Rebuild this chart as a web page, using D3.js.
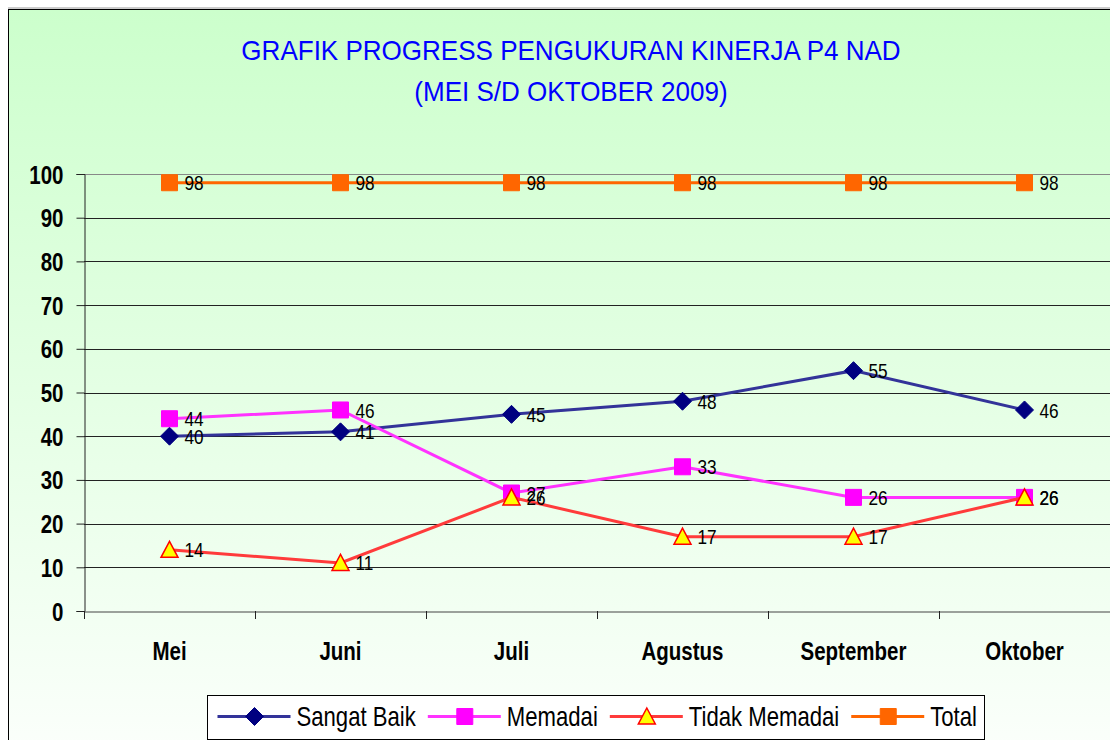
<!DOCTYPE html>
<html>
<head>
<meta charset="utf-8">
<script src="https://cdn.jsdelivr.net/npm/d3@7"></script>
<style>
  body { margin: 0; background: #fff; }
  svg { display: block; font-family: "Liberation Sans", Arial, sans-serif; }
</style>
</head>
<body>
<div id="chart"></div>
<script>
const months = ["Mei", "Juni", "Juli", "Agustus", "September", "Oktober"];
const sangatBaik = [40, 41, 45, 48, 55, 46];
const memadai = [44, 46, 27, 33, 26, 26];
const tidakMemadai = [14, 11, 26, 17, 17, 26];
const total = [98, 98, 98, 98, 98, 98];
const yTicks = [0, 10, 20, 30, 40, 50, 60, 70, 80, 90, 100];

const series = [
  { name: "Sangat Baik", values: sangatBaik, line: "#333399", marker: "diamond", fill: "#000080", stroke: "#000080" },
  { name: "Memadai", values: memadai, line: "#ff33ff", marker: "square", fill: "#ff00ff", stroke: "#ff00ff" },
  { name: "Tidak Memadai", values: tidakMemadai, line: "#ff3b3b", marker: "triangle", fill: "#ffff00", stroke: "#ff0000" },
  { name: "Total", values: total, line: "#ff6600", marker: "square", fill: "#ff6600", stroke: "#ff6600" }
];

const W = 1110, H = 740;
const NARROW = 0.82; // squeeze to mimic a narrow face
const svg = d3.select("#chart").append("svg").attr("width", W).attr("height", H);

const defs = svg.append("defs");
const grad = defs.append("linearGradient").attr("id", "bg").attr("x1", 0).attr("y1", 0).attr("x2", 0).attr("y2", 1);
grad.append("stop").attr("offset", "0%").attr("stop-color", "#ccffcc");
grad.append("stop").attr("offset", "100%").attr("stop-color", "#fbfffb");

svg.append("line").attr("x1", 8).attr("x2", W).attr("y1", 8).attr("y2", 8).attr("stroke", "#999");
svg.append("rect").attr("x", 8.5).attr("y", 9.5).attr("width", W).attr("height", H)
  .attr("fill", "url(#bg)").attr("stroke", "#000").attr("stroke-width", 1);

function narrowText(parent, x, y, txt, size, sx) {
  return parent.append("text")
    .attr("transform", `translate(${x},${y}) scale(${sx},1)`)
    .attr("font-size", size).text(txt);
}

narrowText(svg, 571, 60, "GRAFIK PROGRESS PENGUKURAN KINERJA P4 NAD", 28, 0.93)
  .attr("text-anchor", "middle").attr("fill", "#0000ff");
narrowText(svg, 571, 101, "(MEI S/D OKTOBER 2009)", 28, 0.93)
  .attr("text-anchor", "middle").attr("fill", "#0000ff");

const x = d3.scaleBand().domain(months).range([84, 1110]);
const y = d3.scaleLinear().domain([0, 100]).range([611, 174]);
const cx = m => x(m) + x.bandwidth() / 2;

// gridlines
svg.append("g").selectAll("line").data(yTicks.filter(t => t > 0)).join("line")
  .attr("x1", 84).attr("x2", W).attr("y1", d => Math.round(y(d)) + 0.5).attr("y2", d => Math.round(y(d)) + 0.5)
  .attr("stroke", d => d === 100 ? "#888" : "#222").attr("stroke-width", 1);

// y axis
const yAxis = svg.append("g").attr("transform", "translate(84.5,0)")
  .call(d3.axisLeft(y).tickValues(yTicks).tickSize(8));
yAxis.select(".domain").attr("stroke", "#222");
yAxis.selectAll(".tick line").attr("stroke", "#222");
yAxis.selectAll("text").attr("x", 0).attr("dy", "0.36em")
  .attr("transform", `translate(-21,0) scale(${NARROW},1)`)
  .attr("font-size", 25).attr("font-weight", "bold").attr("fill", "#000")
  .attr("font-family", "'Liberation Sans', Arial, sans-serif");

// x axis
const xAxis = svg.append("g").attr("transform", "translate(0,611.5)")
  .call(d3.axisBottom(x).tickSize(0));
xAxis.select(".domain").attr("stroke", "#444");
xAxis.selectAll("text").attr("y", 0).attr("dy", null)
  .attr("transform", `translate(0,48) scale(${NARROW},1)`)
  .attr("font-size", 25).attr("font-weight", "bold").attr("fill", "#000")
  .attr("font-family", "'Liberation Sans', Arial, sans-serif");
svg.append("g").selectAll("line").data(months).join("line")
  .attr("x1", d => Math.round(x(d)) + 0.5).attr("x2", d => Math.round(x(d)) + 0.5)
  .attr("y1", 611).attr("y2", 619).attr("stroke", "#222");

function markerPath(type) {
  if (type === "diamond") return "M0,-9L9,0L0,9L-9,0Z";
  if (type === "square") return "M-8,-8H8V8H-8Z";
  return "M0,-8.5L8.5,7.5L-8.5,7.5Z";
}

const line = d3.line().x((d, i) => cx(months[i])).y(d => y(d));

series.forEach(s => {
  const g = svg.append("g");
  g.append("path").datum(s.values).attr("d", line)
    .attr("fill", "none").attr("stroke", s.line).attr("stroke-width", 3);
  g.selectAll("path.m").data(s.values).join("path").attr("class", "m")
    .attr("transform", (d, i) => `translate(${cx(months[i])},${y(d)})`)
    .attr("d", markerPath(s.marker))
    .attr("fill", s.fill).attr("stroke", s.stroke).attr("stroke-width", s.marker === "triangle" ? 1.5 : 1);
});
series.forEach(s => {
  svg.append("g").selectAll("text").data(s.values).join("text")
    .attr("transform", (d, i) => `translate(${cx(months[i]) + 15},${y(d)}) scale(${NARROW},1)`)
    .attr("dy", "0.36em").attr("font-size", 21).attr("fill", "#000").text(d => d);
});

// legend
const lg = svg.append("g").attr("transform", "translate(207.5,695.5)");
lg.append("rect").attr("width", 777).attr("height", 44).attr("fill", "#fff").attr("stroke", "#000");
let lx = 10;
series.forEach(s => {
  const item = lg.append("g").attr("transform", `translate(${lx},21)`);
  item.append("line").attr("x1", 0).attr("x2", 73).attr("stroke", s.line).attr("stroke-width", 3);
  item.append("path").attr("transform", "translate(37,0)")
    .attr("d", markerPath(s.marker))
    .attr("fill", s.fill).attr("stroke", s.stroke).attr("stroke-width", s.marker === "triangle" ? 1.5 : 1);
  const t = narrowText(item, 79, 0, s.name, 27, NARROW).attr("dy", "0.36em").attr("fill", "#000");
  lx += 79 + t.node().getComputedTextLength() * NARROW + 12;
});
</script>
</body>
</html>
